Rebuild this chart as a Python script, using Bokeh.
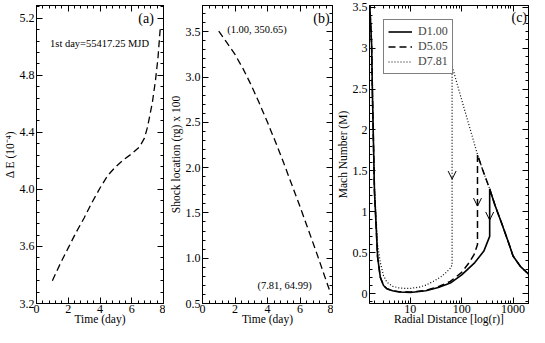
from bokeh.plotting import figure
from bokeh.layouts import row
from bokeh.models import (LinearAxis, LogAxis, SingleIntervalTicker, FixedTicker,
                          PrintfTickFormatter, CustomJSTickFormatter, Label, Arrow, OpenHead,
                          CustomLabelingPolicy)
from bokeh.embed import file_html
from bokeh.resources import INLINE

FONT = "Liberation Serif"

# ---------------- data ----------------
# panel (a): Delta E vs time
days_a = [1.00, 1.5, 2.0, 2.5, 3.0, 3.5, 4.0, 4.5, 5.0, 5.5, 6.0, 6.5, 6.8, 7.0, 7.3, 7.5, 7.65, 7.81]
delta_e = [3.36, 3.48, 3.59, 3.70, 3.80, 3.91, 4.01, 4.10, 4.16, 4.21, 4.25, 4.30, 4.36, 4.44, 4.61, 4.77, 4.92, 5.15]

# panel (b): shock location /100 vs time
days_b = [1.00, 1.5, 2.0, 2.5, 3.0, 3.5, 4.0, 4.5, 5.0, 5.5, 6.0, 6.5, 7.0, 7.5, 7.81]
shock_loc = [3.5065, 3.38, 3.25, 3.09, 2.91, 2.71, 2.50, 2.28, 2.05, 1.81, 1.57, 1.32, 1.07, 0.81, 0.6499]

# panel (c): Mach number vs radial distance
outer_r = [64.99, 80, 104, 140, 203, 260, 350.65, 450, 600, 800, 1000, 1400, 2000]
outer_M = [2.78, 2.58, 2.33, 2.05, 1.70, 1.50, 1.28, 1.07, 0.86, 0.64, 0.46, 0.33, 0.24]

labels_c = ["D1.00", "D5.05", "D7.81"]
shock_r = [350.65, 203, 64.99]
arrow_M = [0.90, 1.07, 1.40]

inner_r_d1 = [1.6, 1.76, 1.83, 2.0, 2.3, 2.6, 3.0, 3.5, 4.5, 6, 10, 20, 35, 60, 100, 180, 270, 350.65]
inner_M_d1 = [3.6, 3.04, 2.41, 1.25, 0.45, 0.20, 0.10, 0.06, 0.035, 0.02, 0.015, 0.035, 0.075, 0.13, 0.23, 0.38, 0.52, 0.70]

inner_r_d5 = [1.6, 1.76, 1.83, 2.0, 2.3, 2.6, 3.0, 3.5, 4.5, 6, 10, 20, 35, 60, 100, 140, 175, 203]
inner_M_d5 = [3.6, 3.04, 2.41, 1.25, 0.45, 0.20, 0.10, 0.06, 0.035, 0.025, 0.02, 0.04, 0.085, 0.15, 0.26, 0.38, 0.48, 0.60]

inner_r_d7 = [1.6, 1.76, 1.83, 2.0, 2.3, 2.6, 3.0, 3.5, 4.5, 6, 8, 10, 15, 20, 30, 40, 50, 60, 64.99]
inner_M_d7 = [3.6, 3.04, 2.41, 1.30, 0.60, 0.38, 0.22, 0.14, 0.09, 0.07, 0.065, 0.065, 0.08, 0.105, 0.16, 0.21, 0.26, 0.31, 0.35]

inner_r = [inner_r_d1, inner_r_d5, inner_r_d7]
inner_M = [inner_M_d1, inner_M_d5, inner_M_d7]
dashes = ["solid", "7 4", "1 2"]
widths = [1.6, 1.5, 1.2]


def style_axis(ax, horizontal=True):
    ax.axis_line_color = "black"
    ax.axis_line_width = 1
    ax.major_tick_in = 6
    ax.major_tick_out = 0
    ax.minor_tick_in = 3
    ax.minor_tick_out = 0
    ax.major_tick_line_color = "black"
    ax.minor_tick_line_color = "black"
    ax.major_label_text_font = FONT
    ax.major_label_text_font_size = "12px"
    ax.major_label_text_color = "black"
    ax.axis_label_text_font = FONT
    ax.axis_label_text_font_style = "normal"
    ax.axis_label_text_font_size = "11.5px"
    ax.axis_label_text_color = "black"
    if horizontal:
        ax.major_label_standoff = 1
        ax.axis_label_standoff = -3
    else:
        ax.major_label_standoff = 2
        ax.axis_label_standoff = 1


def style_all(p):
    for ax in p.xaxis:
        style_axis(ax, True)
    for ax in p.yaxis:
        style_axis(ax, False)


def mirror(p, xticker, yticker, log_x=False):
    top = LogAxis(ticker=xticker) if log_x else LinearAxis(ticker=xticker)
    right = LinearAxis(ticker=yticker)
    for ax in (top, right):
        style_axis(ax)
        ax.formatter = PrintfTickFormatter(format="%d")
        ax.major_label_text_font_size = "1px"
        ax.major_label_standoff = -8
        ax.major_label_policy = CustomLabelingPolicy(code="return new Set()")
    p.add_layout(top, "above")
    p.add_layout(right, "right")


def base(width, x_range, y_range, left, right, x_axis_type="linear"):
    p = figure(width=width, height=327, x_range=x_range, y_range=y_range,
               x_axis_type=x_axis_type, output_backend="svg", toolbar_location=None,
               min_border_left=left, min_border_right=right, min_border_top=5,
               min_border_bottom=0)
    p.xgrid.visible = False
    p.ygrid.visible = False
    p.outline_line_color = "black"
    p.outline_line_width = 1
    p.background_fill_color = "white"
    p.border_fill_color = "white"
    return p


def txt(p, x, y, s, size, align="center"):
    p.add_layout(Label(x=x, y=y, text=s, text_font=FONT, text_font_size=size,
                       text_align=align, text_baseline="middle", text_color="black"))


# ---------------- panel (a) ----------------
pa = base(165, (0, 8), (3.2, 5.29), 34, 2)
pa.line(days_a, delta_e, line_color="black", line_width=1.3, line_dash="7 4")
pa.xaxis.ticker = SingleIntervalTicker(interval=2, num_minor_ticks=5)
pa.yaxis.ticker = SingleIntervalTicker(interval=0.4, num_minor_ticks=5)
pa.yaxis.formatter = PrintfTickFormatter(format="%.1f")
pa.xaxis.axis_label = "Time (day)"
pa.yaxis.axis_label = "\u0394 E (10\u207b\u2074)"
style_all(pa)
mirror(pa, SingleIntervalTicker(interval=2, num_minor_ticks=5),
       SingleIntervalTicker(interval=0.4, num_minor_ticks=5))
txt(pa, 6.9, 5.2, "(a)", "14px")
txt(pa, 3.97, 5.02, "1st day=55417.25 MJD", "10.5px")

# ---------------- panel (b) ----------------
pb = base(168, (0, 8), (0.5, 3.79), 37, 1)
pb.line(days_b, shock_loc, line_color="black", line_width=1.3, line_dash="7 4")
pb.xaxis.ticker = SingleIntervalTicker(interval=2, num_minor_ticks=5)
pb.yaxis.ticker = SingleIntervalTicker(interval=0.5, num_minor_ticks=5)
pb.yaxis.formatter = PrintfTickFormatter(format="%.1f")
pb.xaxis.axis_label = "Time (day)"
pb.yaxis.axis_label = "Shock location (rg) x 100"
style_all(pb)
mirror(pb, SingleIntervalTicker(interval=2, num_minor_ticks=5),
       SingleIntervalTicker(interval=0.5, num_minor_ticks=5))
txt(pb, 7.32, 3.65, "(b)", "14px")
txt(pb, 3.35, 3.52, "(1.00, 350.65)", "10.5px")
txt(pb, 5.05, 0.70, "(7.81, 64.99)", "10.5px")

# ---------------- panel (c) ----------------
log_major = [10, 100, 1000]
log_minor = [m * 10 ** k for k in range(0, 4) for m in range(2, 10)]
pc = base(196, (1.6, 2000), (-0.12, 3.52), 33, 1, x_axis_type="log")
for i in range(3):
    xs = [r for r in outer_r[::-1] if r >= shock_r[i]] + inner_r[i][::-1]
    ys = [m for r, m in zip(outer_r[::-1], outer_M[::-1]) if r >= shock_r[i]] + inner_M[i][::-1]
    pc.line(xs, ys, line_color="black", line_width=widths[i], line_dash=dashes[i],
            legend_label=labels_c[i])
    pc.add_layout(Arrow(end=OpenHead(size=8, line_color="black", line_width=1),
                        x_start=shock_r[i], y_start=arrow_M[i] + 0.3,
                        x_end=shock_r[i], y_end=arrow_M[i], line_alpha=0))
pc.xaxis.ticker = FixedTicker(ticks=log_major, minor_ticks=log_minor)
pc.xaxis.formatter = PrintfTickFormatter(format="%d")
pc.yaxis.ticker = SingleIntervalTicker(interval=0.5, num_minor_ticks=5)
pc.yaxis.formatter = CustomJSTickFormatter(code="return tick.toString();")
pc.xaxis.axis_label = "Radial Distance [log(r)]"
pc.yaxis.axis_label = "Mach Number (M)"
style_all(pc)
mirror(pc, FixedTicker(ticks=log_major, minor_ticks=log_minor),
       SingleIntervalTicker(interval=0.5, num_minor_ticks=5), log_x=True)
txt(pc, 1320, 3.37, "(c)", "14px")

lg = pc.legend[0]
lg.location = "top_left"
lg.margin = 14
lg.padding = 4
lg.spacing = 0
lg.label_text_font = FONT
lg.label_text_font_size = "12px"
lg.label_height = 13
lg.glyph_height = 13
lg.glyph_width = 24
lg.label_standoff = 6
lg.border_line_color = "black"
lg.border_line_width = 1
lg.background_fill_alpha = 1

layout = row(pa, pb, pc, spacing=0)
open("out.html", "w").write(file_html(layout, INLINE))
